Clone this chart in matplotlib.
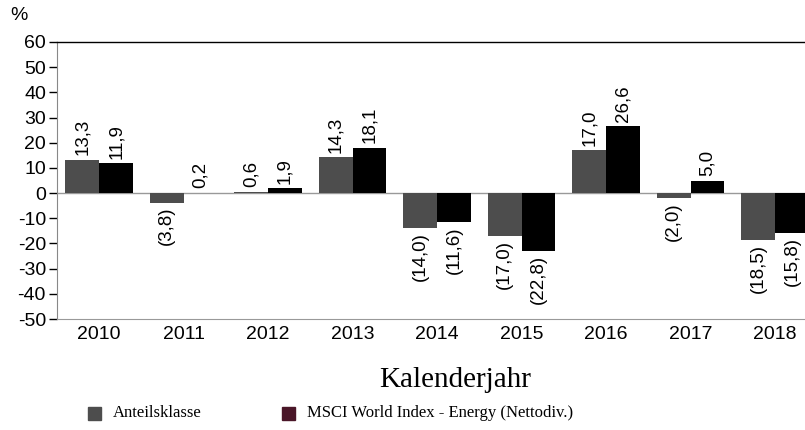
import numpy as np
from matplotlib import pyplot as plt, patches

years = ['2010', '2011', '2012', '2013', '2014', '2015', '2016', '2017', '2018']
fund = [13.3, -3.8, 0.6, 14.3, -14.0, -17.0, 17.0, -2.0, -18.5]
index = [11.9, 0.2, 1.9, 18.1, -11.6, -22.8, 26.6, 5.0, -15.8]
series_names = ['Anteilsklasse', 'MSCI World Index - Energy (Nettodiv.)']
yticks = list(range(-50, 61, 10))

W, H = 805, 430
fig = plt.figure(figsize=(W / 100, H / 100), dpi=100)
ax = fig.add_axes([57 / W, (H - 319) / H, (W - 57) / W, (319 - 42) / H])

x = np.arange(len(years))
bw = 0.4
sans = 'Liberation Sans'
serif = 'Liberation Serif'


def fmt(v):
    s = f'{abs(v):.1f}'.replace('.', ',')
    return f'({s})' if v < 0 else s


for vals, off, col in [(fund, -bw / 2, '#4d4d4d'), (index, bw / 2, '#000000')]:
    ax.bar(x + off, vals, bw, color=col, zorder=2)
    for xi, v in zip(x, vals):
        if v >= 0:
            ax.annotate(fmt(v), (xi + off, v), xytext=(0, 3), textcoords='offset points',
                        rotation=90, ha='center', va='bottom', fontsize=13.5, family=sans)
        else:
            ax.annotate(fmt(v), (xi + off, v), xytext=(0, -3), textcoords='offset points',
                        rotation=90, ha='center', va='top', fontsize=13.5, family=sans)

ax.axhline(0, color='#999999', lw=1, zorder=1)
ax.set_ylim(-50, 60)
ax.set_xlim(-0.5, 8 + 30 / 84.5)
ax.set_yticks(yticks)
ax.set_yticklabels([str(t) for t in yticks], family=sans, fontsize=14)
ax.set_xticks(x)
ax.set_xticklabels(years, family=sans, fontsize=14)
ax.tick_params(axis='x', length=0, pad=5)
ax.tick_params(axis='y', length=6, direction='out', width=1, pad=2)
ax.spines['right'].set_visible(False)
ax.spines['bottom'].set_color('#999999')
ax.spines['left'].set_color('#888888')
ax.spines['top'].set_linewidth(1)

fig.text(10 / W, 1 - 15 / H, '%', family=sans, fontsize=14, ha='left', va='center')
fig.text(455 / W, 1 - 380 / H, 'Kalenderjahr', family=serif, fontsize=21, ha='center', va='center')

# legend by hand
for px, col, name in [(88, '#4d4d4d', series_names[0]), (282, '#4a1628', series_names[1])]:
    fig.patches.append(patches.Rectangle((px / W, 1 - 420 / H), 13 / W, 13 / H,
                                         color=col, transform=fig.transFigure))
    fig.text((px + 25) / W, 1 - 413 / H, name, family=serif, fontsize=12, ha='left', va='center')

fig.savefig('out.png', dpi=100)
